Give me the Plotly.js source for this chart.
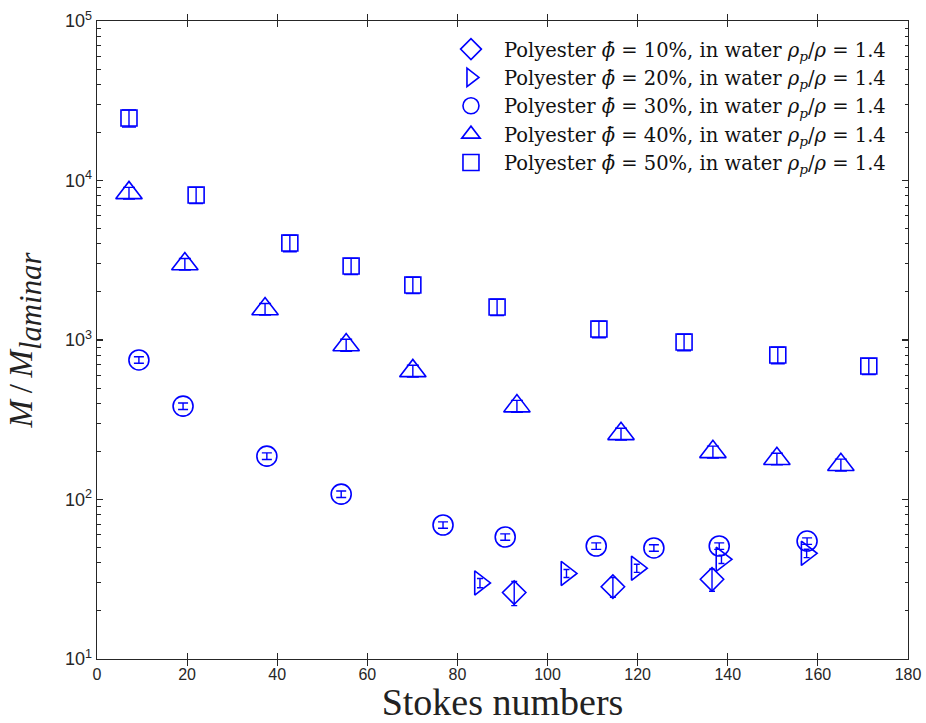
<!DOCTYPE html>
<html>
<head>
<meta charset="utf-8">
<script src="https://cdn.plot.ly/plotly-3.0.1.min.js"></script>
<style>html,body{margin:0;padding:0;background:#fff;}#chart{width:926px;height:723px;}</style>
</head>
<body>
<div id="chart"></div>
<script>
// Polyester phi = 10%
const st10 = [92.6, 114.5, 136.5];
const m10 = [26.1, 28.4, 31.6];
const e10 = [4.5, 4.0, 5.0];
// 20%
const st20 = [85.0, 104.2, 119.8, 138.6, 157.5];
const m20 = [30.0, 34.4, 37.1, 42.2, 46.0];
const e20 = [2.0, 2.0, 2.2, 2.5, 2.8];
// 30%
const st30 = [9.3, 19.1, 37.7, 54.2, 76.8, 90.6, 110.8, 123.6, 138.1, 157.6];
const m30 = [750, 385, 187, 108, 69.2, 58.2, 51.1, 49.7, 51.1, 54.9];
const e30 = [35, 18, 9, 5, 3.2, 2.7, 2.4, 2.3, 2.4, 2.6];
// 40%
const st40 = [7.1, 19.5, 37.3, 55.3, 70.1, 93.2, 116.3, 136.7, 150.9, 165.1];
const m40 = [8360, 2993, 1563, 931, 640, 385, 258, 199, 180, 165];
const e40 = [700, 250, 130, 80, 55, 33, 22, 17, 15, 14];
// 50%
const st50 = [7.1, 22.0, 42.8, 56.4, 70.1, 88.8, 111.4, 130.3, 151.1, 171.3];
const m50 = [24660, 8110, 4055, 2911, 2213, 1611, 1172, 971, 805, 687];
const e50 = [3000, 950, 480, 340, 260, 190, 140, 115, 95, 80];

const phis = ['10', '20', '30', '40', '50'];
const yTickVals = [10, 100, 1000, 10000, 100000];
const yTickText = ['10<sup>1</sup>', '10<sup>2</sup>', '10<sup>3</sup>', '10<sup>4</sup>', '10<sup>5</sup>'];
const xTickVals = [0, 20, 40, 60, 80, 100, 120, 140, 160, 180];

const minorVals = [];
for (let d = 10; d < 100000; d *= 10) {
  for (let k = 2; k <= 9; k++) minorVals.push(k * d);
}

const blue = '#0000ff';
const NB = '\u00a0';
function label(p) {
  return 'Polyester <i>\u03d5\u0304</i>' + NB + '=' + NB + p +
    '%, in water <i>ρ<sub>p</sub></i>/<i>ρ</i>' + NB + '=' + NB + '1.4';
}
function tr(x, y, e, sym, size, capw, p) {
  return {
    type: 'scatter', mode: 'markers', x: x, y: y,
    name: label(p), legendgroup: 'g' + p,
    marker: {symbol: sym, size: size, color: blue, line: {color: blue, width: 1.6}},
    error_y: {type: 'data', array: e, visible: true, color: blue, thickness: 1.4, width: capw}
  };
}
const data = [
  tr(st10, m10, e10, 'diamond-open', 18, 3, phis[0]),
  tr(st20, m20, e20, 'triangle-right-open', 21, 3, phis[1]),
  tr(st30, m30, e30, 'circle-open', 20, 5, phis[2]),
  tr(st40, m40, e40, 'triangle-up-open', 23, 6, phis[3]),
  tr(st50, m50, e50, 'square-open', 16, 7, phis[4]),
  {type: 'scatter', mode: 'markers', x: [], y: [], yaxis: 'y2', showlegend: false, hoverinfo: 'skip'}
];

const axisColor = '#262626';
const tickFont = {family: 'Liberation Sans', size: 16, color: axisColor};
const minorSpec = {tickmode: 'array', tickvals: minorVals, ticks: 'inside', ticklen: 3.5, tickwidth: 1, tickcolor: axisColor, showgrid: false};
const layout = {
  width: 926, height: 723,
  margin: {l: 97, r: 18, t: 21, b: 64, pad: 0},
  paper_bgcolor: '#fff', plot_bgcolor: '#fff',
  showlegend: true,
  legend: {
    x: 0.979, y: 0.986, xanchor: 'right', yanchor: 'top',
    bgcolor: 'rgba(255,255,255,0)', borderwidth: 0,
    font: {family: 'DejaVu Serif', size: 19.5, color: '#111'},
    traceorder: 'grouped', tracegroupgap: 0, itemwidth: 56
  },
  xaxis: {
    range: [0, 180], tickmode: 'array', tickvals: xTickVals,
    ticks: 'inside', ticklen: 6, tickwidth: 1.2, tickcolor: axisColor,
    showline: true, linecolor: axisColor, linewidth: 1.4, mirror: 'allticks',
    showgrid: false, zeroline: false, tickfont: tickFont,
    title: {text: 'Stokes numbers', font: {family: 'Liberation Serif', size: 38, color: '#222'}, standoff: 9}
  },
  yaxis: {
    type: 'log', range: [1, 5], tickmode: 'array', tickvals: yTickVals, ticktext: yTickText,
    ticks: 'inside', ticklen: 6, tickwidth: 1.2, tickcolor: axisColor,
    minor: minorSpec,
    showline: true, linecolor: axisColor, linewidth: 1.4, mirror: 'allticks',
    showgrid: false, zeroline: false,
    tickfont: {family: 'Liberation Sans', size: 18, color: axisColor},
    title: {
      text: '<span style="font-size:33px"><i>M</i>\u2009/\u2009<i>M</i></span><sub><i>laminar</i></sub>',
      font: {family: 'Liberation Serif', size: 44, color: '#222'}, standoff: 18
    }
  },
  yaxis2: {
    type: 'log', range: [1, 5], overlaying: 'y', side: 'right', anchor: 'x',
    tickmode: 'array', tickvals: yTickVals, showticklabels: false,
    ticks: 'inside', ticklen: 6, tickwidth: 1.2, tickcolor: axisColor,
    minor: minorSpec, showline: false, showgrid: false, zeroline: false
  }
};

Plotly.newPlot('chart', data, layout, {displayModeBar: false, staticPlot: true});
</script>
</body>
</html>
